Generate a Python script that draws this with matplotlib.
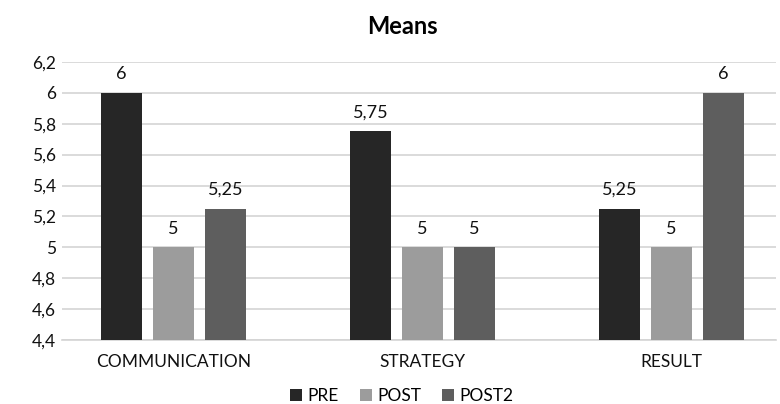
import matplotlib.pyplot as plt
import numpy as np

plt.rcParams['font.family'] = ['Lato', 'DejaVu Sans']

categories = ['COMMUNICATION', 'STRATEGY', 'RESULT']
pre = [6, 5.75, 5.25]
post = [5, 5, 5]
post2 = [5.25, 5, 6]
series_names = ['PRE', 'POST', 'POST2']
colors = ['#262626', '#9c9c9c', '#5e5e5e']


def fmt(v):
    s = ('%g' % v).replace('.', ',')
    return s


fig = plt.figure(figsize=(7.8, 4.04), dpi=100)
ax = fig.add_axes([0.079, 0.158, 0.916, 0.689])

x = np.arange(len(categories))
w = 0.165
step = 0.209
for i, (vals, name, c) in enumerate(zip([pre, post, post2], series_names, colors)):
    pos = x + (i - 1) * step
    bars = ax.bar(pos, np.array(vals) - 4.4, w, bottom=4.4, color=c, label=name, zorder=3)
    for p, v in zip(pos, vals):
        ax.text(p, v + 0.07, fmt(v), ha='center', va='bottom', fontsize=13, color='#111111')

ax.set_ylim(4.4, 6.2)
ax.set_xlim(-0.45, 2.42)
yt = np.round(np.arange(4.4, 6.21, 0.2), 1)
ax.set_yticks(yt)
ax.set_yticklabels([fmt(v) for v in yt], fontsize=12.5)
ax.set_xticks(x)
ax.set_xticklabels(categories, fontsize=12.5)
ax.tick_params(axis='both', length=0, colors='#111111')
ax.tick_params(axis='x', pad=10)
ax.tick_params(axis='y', pad=4)
ax.grid(axis='y', color='#d4d4d4', linewidth=1.2, zorder=0)
for s in ['top', 'right', 'left']:
    ax.spines[s].set_visible(False)
ax.spines['bottom'].set_color('#d4d4d4')
ax.spines['bottom'].set_linewidth(1.2)

fig.text(0.516, 0.935, 'Means', ha='center', va='center', fontsize=17, fontweight='bold')
fig.legend(loc='center', bbox_to_anchor=(0.515, 0.02), ncol=3, frameon=False,
           fontsize=12.5, handlelength=0.7, handleheight=0.7, handletextpad=0.3,
           columnspacing=1.2, borderaxespad=0)

fig.savefig('out.png', dpi=100)
